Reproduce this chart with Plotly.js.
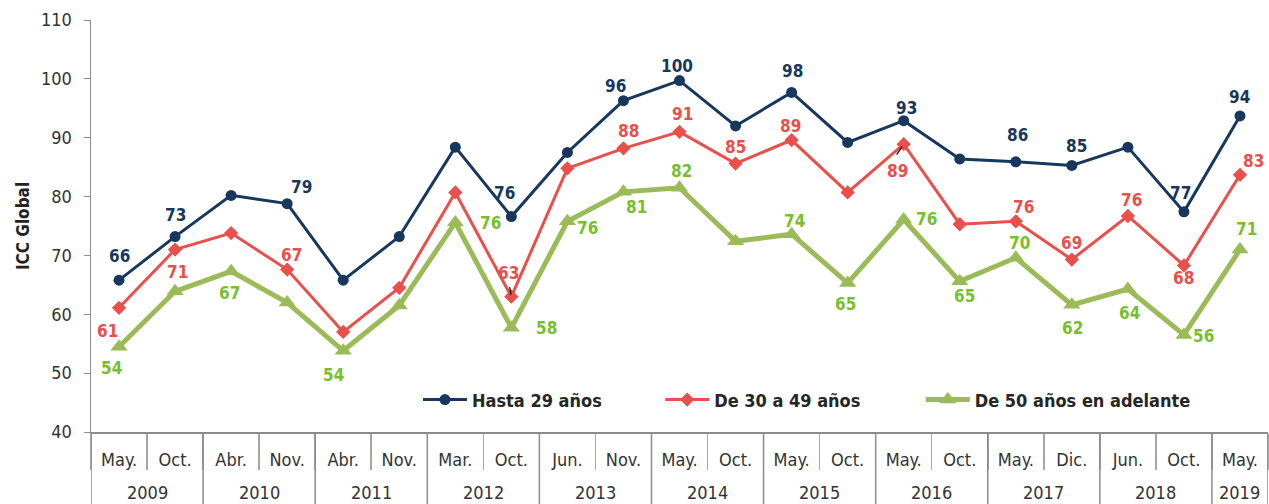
<!DOCTYPE html>
<html><head><meta charset="utf-8">
<script src="https://cdn.plot.ly/plotly-3.0.1.min.js"></script>
<style>html,body{margin:0;padding:0;background:#fff}#chart{width:1269px;height:504px}</style>
</head><body><div id="chart"></div>
<script>
// ---- data ----
const months = ['May.','Oct.','Abr.','Nov.','Abr.','Nov.','Mar.','Oct.','Jun.','Nov.','May.','Oct.','May.','Oct.','May.','Oct.','May.','Dic.','Jun.','Oct.','May.'];
const years = ['2009','2009','2010','2010','2011','2011','2012','2012','2013','2013','2014','2014','2015','2015','2016','2016','2017','2017','2018','2018','2019'];
const hasta29 = [65.8,73.2,80.2,78.8,65.8,73.2,88.4,76.6,87.5,96.3,99.7,92.0,97.7,89.2,92.9,86.4,85.9,85.3,88.4,77.4,93.7];
const de30a49 = [61.1,71.0,73.8,67.6,57.0,64.5,80.7,63.0,84.8,88.2,91.0,85.6,89.6,80.7,88.9,75.3,75.8,69.3,76.7,68.3,83.7];
const de50 = [54.5,63.9,67.3,62.0,53.8,61.5,75.6,57.7,75.8,80.8,81.5,72.4,73.6,65.3,76.1,65.6,69.6,61.6,64.3,56.5,71.0];
const hasta29Labels = ['66','73',null,'79',null,null,null,'76',null,'96','100',null,'98',null,'93',null,'86','85',null,'77','94'];
const de30a49Labels = ['61','71',null,'67',null,null,null,'63',null,'88','91','85','89',null,'89',null,'76','69','76','68','83'];
const de50Labels = ['54',null,'67',null,'54',null,'76','58','76','81','82',null,'74','65','76','65','70','62','64','56','71'];
const seriesNames = ['Hasta 29 años','De 30 a 49 años','De 50 años en adelante'];

// ---- styling: label offsets [dx, dyUp] in px ----
const hOff = {0:[0,24],1:[0,22],3:[14,17],7:[-7,24],9:[-8,15],10:[-3,15],12:[1,21],14:[3,13],16:[2,27],17:[5,19],19:[-3,19],20:[0,19]};
const rOff = {0:[-12,-23],1:[2,-22],3:[4,15],7:[-3,24],9:[5,17],10:[3,18],11:[0,17],12:[-1,14],14:[-6,-27],16:[8,14],17:[0,17],18:[4,16],19:[0,-13],20:[14,14]};
const gOff = {0:[-8,-21],2:[-2,-22],4:[-10,-24],6:[35,-1],7:[35,0],8:[20,-7],9:[13,-15],10:[2,17],12:[3,13],13:[-2,-21],14:[23,1],15:[5,-15],16:[4,15],17:[1,-23],18:[2,-24],19:[20,-1],20:[7,21]};
// small leader ticks next to two red labels: index -> [ax, ay, standoff]
const rLeaders = {7:[-2,-11,2], 14:[-8,12,3]};

const navy = '#17375E', red = '#E9504C', green = '#9BBB59', greenText = '#77BF2C';
const axisGray = '#8C8C8C';
const font = '"DejaVu Sans Condensed", "DejaVu Sans", sans-serif';
const cats = months.map((m, i) => years[i] + ' ' + m);

const traces = [
  {x:cats, y:hasta29, name:seriesNames[0], legend:'legend', mode:'lines+markers', line:{color:navy,width:3}, marker:{symbol:'circle',size:11,color:navy}},
  {x:cats, y:de30a49, name:seriesNames[1], legend:'legend2', mode:'lines+markers', line:{color:red,width:3}, marker:{symbol:'diamond',size:11,color:red}},
  {x:cats, y:de50, name:seriesNames[2], legend:'legend3', mode:'lines+markers', line:{color:green,width:5}, marker:{symbol:'triangle-up',size:15,color:green}}
];

const annotations = [];
function addLabels(vals, labels, off, color) {
  labels.forEach((t, i) => {
    if (t === null) return;
    const o = off[i] || [0, 18];
    annotations.push({x:i, y:vals[i], xref:'x', yref:'y', text:'<b>'+t+'</b>', showarrow:false,
      xshift:o[0], yshift:o[1], font:{family:font, size:17, color:color}});
  });
}
addLabels(hasta29, hasta29Labels, hOff, navy);
addLabels(de30a49, de30a49Labels, rOff, red);
addLabels(de50, de50Labels, gOff, greenText);
Object.keys(rLeaders).forEach(k => {
  const i = +k, l = rLeaders[k];
  annotations.push({x:i, y:de30a49[i], xref:'x', yref:'y', text:'', showarrow:true, arrowhead:0,
    arrowwidth:1.2, arrowcolor:'#000', ax:l[0], ay:l[1], standoff:l[2]});
});

// year group labels and dividers, derived from the years array
const shapes = [];
let start = 0;
for (let i = 1; i <= years.length; i++) {
  if (i === years.length || years[i] !== years[start]) {
    annotations.push({x:(start + i - 1) / 2, xref:'x', y:-0.146, yref:'paper', yanchor:'middle',
      text:years[start], showarrow:false, font:{family:font, size:18, color:'#333'}});
    start = i;
  }
}
shapes.push({type:'line', xref:'x', yref:'paper', x0:-0.5, x1:-0.5, y0:0, y1:-0.2, line:{color:axisGray, width:1.5}});
for (let i = 1; i <= years.length; i++) {
  if (i === years.length || years[i] !== years[i-1]) {
    shapes.push({type:'line', xref:'x', yref:'paper', x0:i-0.5, x1:i-0.5, y0:0, y1:-0.2, line:{color:axisGray, width:1.5}});
  }
}

const legendBase = {orientation:'h', y:0.078, yanchor:'middle', xanchor:'left', itemwidth:44,
  font:{family:font, size:18, color:'#262626', weight:'bold'}, bgcolor:'rgba(0,0,0,0)'};

const layout = {
  width:1269, height:504,
  margin:{l:91, r:1, t:20, b:72, autoexpand:false},
  paper_bgcolor:'#fff', plot_bgcolor:'#fff',
  showlegend:true,
  legend:Object.assign({}, legendBase, {x:0.2778}),
  legend2:Object.assign({}, legendBase, {x:0.4836}),
  legend3:Object.assign({}, legendBase, {x:0.705}),
  xaxis:{type:'category', range:[-0.5, months.length - 0.5], tickvals:cats, ticktext:months,
    showline:true, linecolor:axisGray, linewidth:1.5,
    ticks:'outside', ticklen:36, tickcolor:'#A6A6A6', tickwidth:1.5, tickson:'boundaries',
    tickfont:{family:font, size:18, color:'#333'}, showgrid:false, zeroline:false,
    ticklabelstandoff:11},
  yaxis:{range:[40,110], dtick:10, showline:true, linecolor:axisGray, linewidth:1.5,
    ticks:'outside', ticklen:6, tickcolor:axisGray, showgrid:false, zeroline:false,
    ticklabelstandoff:8,
    tickfont:{family:font, size:18, color:'#333'},
    title:{text:'<b>ICC Global</b>', font:{family:font, size:17, color:'#222'}, standoff:7}},
  annotations:annotations,
  shapes:shapes
};
Plotly.newPlot('chart', traces, layout, {displayModeBar:false, staticPlot:true});
</script></body></html>
